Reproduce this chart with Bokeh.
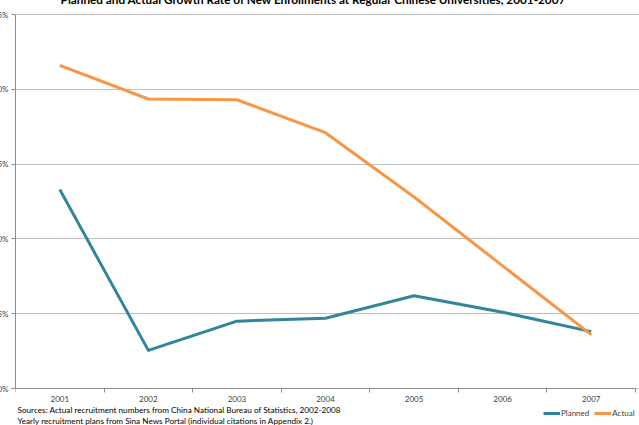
from bokeh.plotting import figure
from bokeh.models import Range1d, FixedTicker, PrintfTickFormatter, Legend, LegendItem, Label
from bokeh.embed import file_html
from bokeh.resources import INLINE

# Growth rate of new enrollments (%)
years = [2001, 2002, 2003, 2004, 2005, 2006, 2007]
planned = [13.3, 2.55, 4.5, 4.7, 6.2, 5.1, 3.8]
actual = [21.6, 19.35, 19.3, 17.1, 12.8, 8.2, 3.6]
y_ticks = [0, 5, 10, 15, 20, 25]

title_text = ("Planned and Actual Growth Rate of New Enrollments at "
              "Regular Chinese Universities, 2001-2007")
source_lines = [
    "Sources: Actual recruitment numbers from China National Bureau of Statistics, 2002-2008",
    "Yearly recruitment plans from Sina News Portal (individual citations in Appendix 2.)",
]

FONT = "Lato"
TEAL = "#31859c"
ORANGE = "#f79646"
GRID = "#bfbfbf"
AXIS = "#8c8c8c"

# Page geometry (px). The plot area spans the whole canvas right of the
# y-axis so that the title, sources and legend can live inside it; the axes
# are bounded to the real chart box.
W, H = 651, 433          # canvas size
SHIFT_X, SHIFT_Y = 12, 8  # canvas pushed up/left of the page
LEFT = 27                # y-axis panel width
BOX_TOP, BOX_BOTTOM = 14 + SHIFT_Y, 396  # chart box, canvas coords
px_per_unit = (BOX_BOTTOM - BOX_TOP) / (y_ticks[-1] - y_ticks[0])
y_start = y_ticks[0] - (H - BOX_BOTTOM) / px_per_unit
y_end = y_ticks[-1] + BOX_TOP / px_per_unit

x_lo, x_hi = years[0] - 0.5, years[-1] + 0.5
px_per_year = (639 - 4 - 15) / (x_hi - x_lo)
x_end = x_hi + 4 / px_per_year

p = figure(
    width=W, height=H,
    output_backend="svg", toolbar_location=None,
    x_range=Range1d(x_lo, x_end),
    y_range=Range1d(y_start, y_end),
    min_border_left=LEFT, min_border_right=0,
    min_border_top=0, min_border_bottom=0,
    margin=(-SHIFT_Y, 0, 0, -SHIFT_X),
)
p.outline_line_color = None
p.background_fill_color = "white"

# y axis: percent scale with gridlines
p.yaxis.ticker = FixedTicker(ticks=y_ticks)
p.yaxis.bounds = (y_ticks[0], y_ticks[-1])
p.yaxis.formatter = PrintfTickFormatter(format="%d%%")
p.yaxis.major_label_text_font = FONT
p.yaxis.major_label_text_font_size = "8px"
p.yaxis.major_label_text_color = "#404040"
p.yaxis.axis_line_color = AXIS
p.yaxis.major_tick_line_color = AXIS
p.yaxis.major_tick_out = 4
p.yaxis.major_tick_in = 0
p.yaxis.minor_tick_line_color = None
p.yaxis.major_label_standoff = 3
p.ygrid.grid_line_color = GRID
p.ygrid.ticker = FixedTicker(ticks=y_ticks)
p.ygrid.bounds = (x_lo, x_hi)

# x axis at 0%: year labels centred, tick marks between categories
p.xaxis.fixed_location = 0
p.xaxis.bounds = (x_lo, x_hi)
p.xaxis.ticker = FixedTicker(ticks=years,
                             minor_ticks=[y - 0.5 for y in years] + [x_hi])
p.xaxis.formatter = PrintfTickFormatter(format="%d")
p.xaxis.major_label_text_font = FONT
p.xaxis.major_label_text_font_size = "8px"
p.xaxis.major_label_text_color = "#404040"
p.xaxis.axis_line_color = AXIS
p.xaxis.major_tick_line_color = None
p.xaxis.minor_tick_line_color = AXIS
p.xaxis.minor_tick_out = 4
p.xaxis.minor_tick_in = 0
p.xaxis.major_label_standoff = 1
p.xgrid.grid_line_color = None

r_planned = p.line(years, planned, line_color=TEAL, line_width=3, line_join="round")
r_actual = p.line(years, actual, line_color=ORANGE, line_width=3, line_join="round")

p.add_layout(Label(
    x=298, y=426, x_units="screen", y_units="screen",
    text=title_text, text_font=FONT, text_font_size="11.75px",
    text_font_style="bold", text_color="#000000",
    text_align="center", text_baseline="alphabetic",
))

legend = Legend(
    items=[LegendItem(label="Planned", renderers=[r_planned]),
           LegendItem(label="Actual", renderers=[r_actual])],
    orientation="horizontal", location=(528, 7),
    label_text_font=FONT, label_text_font_size="8px", label_text_color="#404040",
    glyph_width=17, glyph_height=10, label_standoff=1, spacing=5,
    padding=0, margin=0, border_line_color=None, background_fill_alpha=0,
)
p.add_layout(legend)

for i, line in enumerate(source_lines):
    p.add_layout(Label(
        x=2, y=16 - 11 * i, x_units="screen", y_units="screen",
        text=line, text_font=FONT, text_font_size="8.2px",
        text_color="#000000", text_baseline="middle",
    ))

open("out.html", "w").write(file_html(p, INLINE))
